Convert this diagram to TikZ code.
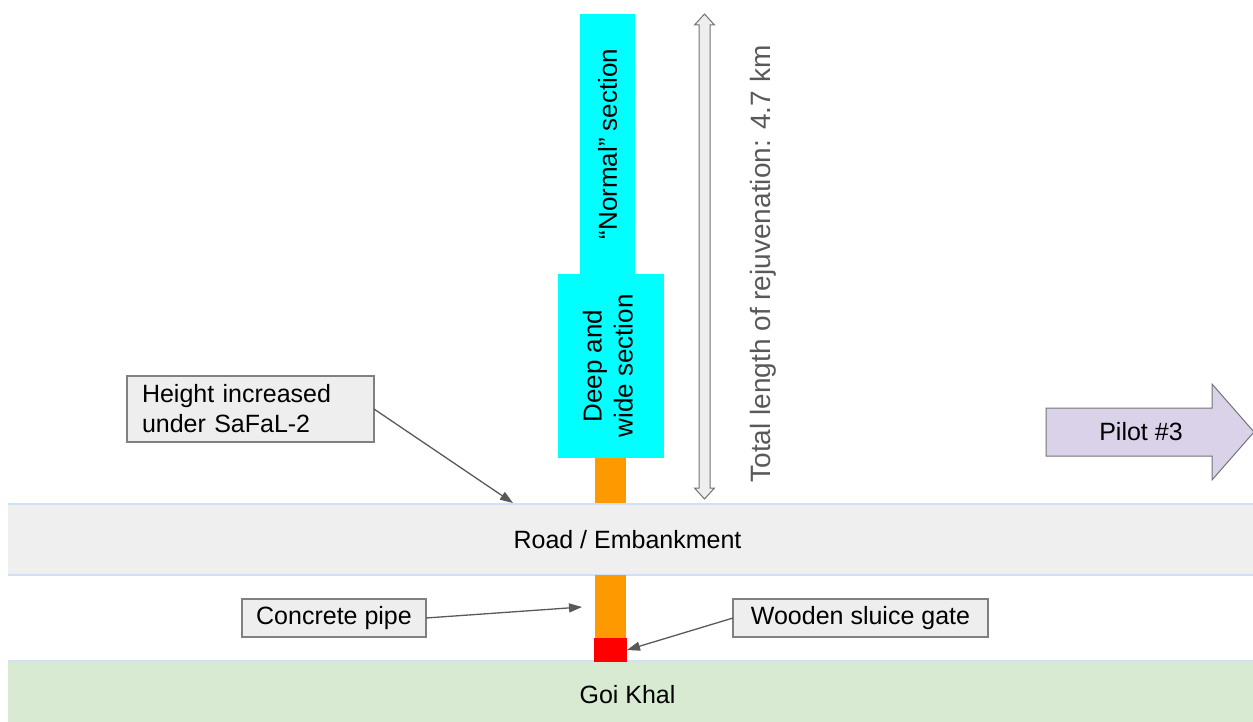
\documentclass[tikz,border=0pt]{standalone}
\usepackage{fontspec}
\setmainfont{Liberation Sans}
\usetikzlibrary{arrows.meta}

\definecolor{roadgray}{HTML}{EFEFEF}
\definecolor{edgeblue}{HTML}{CFE2F3}
\definecolor{khalgreen}{HTML}{D9EAD3}
\definecolor{watercyan}{HTML}{00FFFF}
\definecolor{pipeorange}{HTML}{FF9900}
\definecolor{gatered}{HTML}{FF0000}
\definecolor{notefill}{HTML}{EEEEEE}
\definecolor{noteedge}{HTML}{808080}
\definecolor{linegray}{HTML}{595959}
\definecolor{dimedge}{HTML}{737373}
\definecolor{pilotlilac}{HTML}{D9D2E9}

\begin{document}
\begin{tikzpicture}[x=1pt,y=-1pt,
  font=\fontsize{25}{30}\selectfont,
  block/.style={inner sep=0pt, outer sep=0pt, anchor=north west},
  band/.style={block, minimum width=1245pt},
  section/.style={block, fill=watercyan, font=\fontsize{26}{31}\selectfont},
  note/.style={block, draw=noteedge, line width=1.2pt, fill=notefill},
  callout/.style={draw=linegray, line width=1.3pt,
    -{Triangle[length=13pt,width=9pt]}},
  bandedge/.style={edgeblue, line width=1.5pt}
]
\useasboundingbox (0,0) rectangle (1253,722);

% ground bands
\node[band, fill=roadgray, minimum height=71pt] (road) at (8,504)
  {\hspace*{-6pt}Road / Embankment};
\draw[bandedge] (road.north west) -- (road.north east);
\draw[bandedge] (road.south west) -- (road.south east);
\node[band, fill=khalgreen, minimum height=68pt] (khal) at (8,661)
  {\hspace*{-6pt}Goi Khal};
\draw[bandedge] (khal.north west) -- (khal.north east);

% channel sections
\node[section, minimum width=55pt, minimum height=260pt] (normal) at (580,14)
  {\rotatebox{90}{“Normal” section}};
\node[section, minimum width=106pt, minimum height=184pt] (wide) at (558,274)
  {\rotatebox{90}{\begin{tabular}{@{}c@{}}Deep and\\wide section\end{tabular}}};
\node[block, fill=pipeorange, minimum width=31pt, minimum height=45pt] (pipetop) at (595,458) {};
\node[block, fill=pipeorange, minimum width=31pt, minimum height=63pt] (pipe) at (595,575) {};
\node[block, fill=gatered, minimum width=33pt, minimum height=24pt] (gate) at (594,638) {};

% total length dimension arrow
\draw[dimedge, fill=notefill, line width=1pt]
  (704.5,14) -- (714.5,25) -- (710,25) -- (710,488) -- (714.5,488) -- (704.5,499)
  -- (694.5,488) -- (699,488) -- (699,25) -- (694.5,25) -- cycle;
\node[rotate=90, text=linegray, font=\fontsize{28}{34}\selectfont] (total) at (763,264)
  {Total length of rejuvenation: 4.7 km};

% callouts
\node[note, minimum height=66pt, text width=217pt, inner xsep=15pt, align=left] (height) at (127,376)
  {Height increased\\under SaFaL-2};
\coordinate (heighttip) at (513,503);
\draw[callout] (height.east) -- (heighttip);

\node[note, minimum width=184pt, minimum height=38pt] (concrete) at (242,599) {Concrete pipe};
\coordinate (pipetip) at (582,607);
\draw[callout] (concrete.east) -- (pipetip);

\node[note, minimum width=255pt, minimum height=38pt] (wooden) at (733,599) {Wooden sluice gate};
\draw[callout] (wooden.west) -- (gate.east);

% next pilot
\draw[dimedge, fill=pilotlilac, line width=1pt]
  (1046,408) -- (1212,408) -- (1212,384) -- (1254,432) -- (1212,480) -- (1212,456)
  -- (1046,456) -- cycle;
\node (pilot) at (1141,432) {Pilot \#3};
\end{tikzpicture}
\end{document}
